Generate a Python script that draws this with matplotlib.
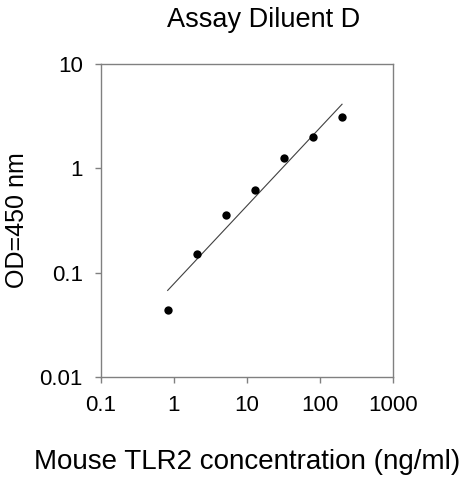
import numpy as np
import matplotlib
matplotlib.use("Agg")
import matplotlib.pyplot as plt
from matplotlib.ticker import FixedLocator, FixedFormatter, NullLocator

# standard curve points
conc = [0.82, 2.05, 5.12, 12.8, 32, 80, 200]       # ng/ml
od = [0.044, 0.152, 0.355, 0.62, 1.25, 1.98, 3.12]  # OD 450 nm

x_ticks = [0.1, 1, 10, 100, 1000]
x_labels = ["0.1", "1", "10", "100", "1000"]
y_ticks = [0.01, 0.1, 1, 10]
y_labels = ["0.01", "0.1", "1", "10"]

plt.rcParams['font.family'] = ['Liberation Sans', 'DejaVu Sans']

fig = plt.figure(figsize=(4.63, 4.8), dpi=100)
ax = fig.add_axes([0.218, 0.2146, 0.631, 0.652])

# log-log linear fit through the points
lx = np.log10(conc)
ly = np.log10(od)
slope, icpt = np.polyfit(lx, ly, 1)
fx = np.array([lx[0], lx[-1]])
ax.plot(10 ** fx, 10 ** (icpt + slope * fx), color='#404040', lw=0.8)

ax.plot(conc, od, 'o', color='black', markersize=6, markeredgewidth=0)

ax.set_xscale('log')
ax.set_yscale('log')
ax.set_xlim(0.1, 1000)
ax.set_ylim(0.01, 10)

ax.xaxis.set_major_locator(FixedLocator(x_ticks))
ax.xaxis.set_major_formatter(FixedFormatter(x_labels))
ax.yaxis.set_major_locator(FixedLocator(y_ticks))
ax.yaxis.set_major_formatter(FixedFormatter(y_labels))
ax.xaxis.set_minor_locator(NullLocator())
ax.yaxis.set_minor_locator(NullLocator())

for s in ax.spines.values():
    s.set_color('#808080')
    s.set_linewidth(1.0)
ax.tick_params(axis='both', which='major', direction='out', length=4,
               width=1.0, color='#808080', labelsize=16)
ax.tick_params(axis='x', pad=9)
ax.tick_params(axis='y', pad=9)

fig.text(264 / 463, 1 - 20 / 480, "Assay Diluent D", ha='center', va='center', fontsize=19.5)
fig.text(247 / 463, 1 - 462 / 480, "Mouse TLR2 concentration (ng/ml)", ha='center', va='center', fontsize=20)
fig.text(17 / 463, 1 - 220 / 480, "OD=450 nm", ha='center', va='center', rotation=90, fontsize=18)

fig.savefig("out.png", dpi=100)
